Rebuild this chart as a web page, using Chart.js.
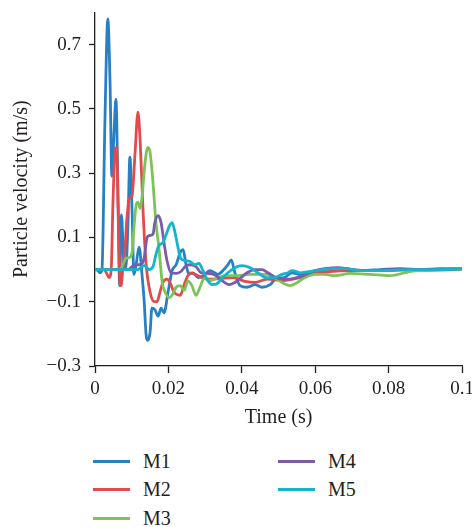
<!doctype html>
<html>
<head>
<meta charset="utf-8">
<title>Particle velocity</title>
<script src="https://cdn.jsdelivr.net/npm/chart.js@4.4.1/dist/chart.umd.min.js"></script>
<style>
  body { margin: 0; background: #fff; }
  #wrap { position: relative; width: 472px; height: 527px; overflow: hidden; }
  #c { position: absolute; left: 0; top: -7px; }
  .leg { position: absolute; font-family: "Liberation Serif", "Times New Roman", serif; font-size: 20px; color: #231f20; line-height: 22px; }
  .leg span.ln { position: absolute; width: 37px; height: 3px; top: 10px; }
  .leg span.tx { position: absolute; left: 50px; top: 0; }
</style>
</head>
<body>
<div id="wrap">
  <canvas id="c" width="479" height="437"></canvas>
  <div id="legend"></div>
</div>
<script>
// series names and colours
var names = ["M1", "M2", "M3", "M4", "M5"];
var colors = ["#2780c3", "#e24a4c", "#7cc35a", "#7d5bac", "#14b4cd"];

// tick values
var xTicks = [0, 0.02, 0.04, 0.06, 0.08, 0.1];
var yTicks = [-0.3, -0.1, 0.1, 0.3, 0.5, 0.7];

// time (s) / velocity (m/s)
var m1T = [0, 0.0008, 0.0014, 0.0019, 0.0027, 0.0035, 0.0041, 0.0046, 0.0052, 0.0057, 0.0063, 0.0067, 0.0072, 0.0079, 0.0084, 0.009, 0.0095, 0.0101, 0.0106, 0.0112, 0.012, 0.0128, 0.0134, 0.0139, 0.0144, 0.015, 0.0155, 0.0163, 0.0172, 0.018, 0.0188, 0.0199, 0.021, 0.0221, 0.0232, 0.024, 0.0248, 0.0256, 0.0267, 0.0281, 0.0294, 0.0313, 0.0335, 0.0351, 0.0362, 0.0371, 0.0381, 0.0395, 0.0414, 0.0436, 0.0455, 0.0477, 0.0493, 0.0515, 0.0537, 0.0559, 0.058, 0.0608, 0.064, 0.0681, 0.0722, 0.0777, 0.0831, 0.0886, 0.094, 0.1];
var m1V = [0, -0.003, -0.01, 0, 0.46, 0.78, 0.58, 0.29, 0.43, 0.53, 0.21, -0.05, 0.17, 0.015, 0.005, 0.15, 0.35, 0.18, -0.015, 0.015, 0.07, -0.015, -0.1, -0.2, -0.22, -0.195, -0.12, -0.125, -0.145, -0.12, -0.135, -0.07, -0.003, 0.015, 0.053, 0.062, 0.015, -0.015, -0.01, -0.025, -0.02, -0.003, -0.015, 0, 0.015, 0.03, -0.01, -0.05, -0.055, -0.047, -0.055, -0.047, -0.028, -0.025, -0.01, -0.015, -0.015, -0.006, 0.003, 0.003, -0.003, 0, 0.003, 0, 0.003, 0.002];

var m2T = [0, 0.0025, 0.0033, 0.0038, 0.0044, 0.0049, 0.0054, 0.0059, 0.0063, 0.0068, 0.0071, 0.0076, 0.0082, 0.0087, 0.0093, 0.0101, 0.0109, 0.0117, 0.0123, 0.0131, 0.0139, 0.015, 0.0161, 0.0169, 0.0177, 0.0185, 0.0196, 0.0204, 0.0215, 0.0232, 0.0245, 0.0259, 0.0272, 0.0292, 0.0313, 0.0341, 0.0376, 0.0409, 0.0436, 0.0469, 0.0512, 0.0559, 0.0599, 0.064, 0.0695, 0.0777, 0.0886, 0.1];
var m2V = [0, 0, -0.015, -0.025, -0.003, 0.21, 0.36, 0.38, 0.18, -0.04, -0.05, 0.005, 0.07, 0.16, 0.22, 0.23, 0.36, 0.49, 0.4, 0.18, 0.02, -0.07, -0.1, -0.1, -0.07, -0.04, -0.03, -0.04, -0.07, -0.08, -0.04, -0.01, -0.015, -0.025, -0.03, -0.028, -0.025, -0.037, -0.04, -0.03, -0.034, -0.025, -0.012, -0.006, -0.003, -0.003, 0, 0];

var m3T = [0, 0.0068, 0.0076, 0.0084, 0.0093, 0.0101, 0.0106, 0.0112, 0.0117, 0.0123, 0.0128, 0.0136, 0.0144, 0.015, 0.0158, 0.0166, 0.0174, 0.0183, 0.0191, 0.0202, 0.021, 0.0221, 0.0232, 0.0243, 0.0253, 0.0264, 0.0275, 0.0286, 0.0297, 0.0313, 0.0335, 0.0357, 0.0381, 0.0422, 0.0469, 0.0493, 0.0515, 0.0531, 0.0551, 0.0572, 0.0599, 0.0627, 0.0654, 0.0695, 0.0749, 0.0804, 0.0858, 0.0913, 0.1];
var m3V = [0, 0, 0.015, 0.035, 0.037, 0.053, 0.13, 0.2, 0.21, 0.19, 0.225, 0.33, 0.38, 0.365, 0.27, 0.145, 0.07, -0.04, -0.07, -0.087, -0.08, -0.055, -0.05, -0.065, -0.035, -0.05, -0.08, -0.055, -0.028, -0.034, -0.025, -0.019, -0.019, -0.015, -0.015, -0.028, -0.044, -0.05, -0.04, -0.025, -0.015, -0.015, -0.019, -0.012, -0.015, -0.019, -0.006, -0.003, 0];

var m4T = [0, 0.009, 0.0104, 0.0114, 0.0125, 0.0134, 0.0142, 0.015, 0.0158, 0.0163, 0.0172, 0.018, 0.0188, 0.0196, 0.0207, 0.0221, 0.0234, 0.0248, 0.0262, 0.0275, 0.0289, 0.0305, 0.0324, 0.0346, 0.0365, 0.0381, 0.0398, 0.0414, 0.0436, 0.0455, 0.0471, 0.0493, 0.0515, 0.054, 0.0567, 0.0599, 0.0627, 0.0662, 0.07, 0.0749, 0.0817, 0.0913, 0.1];
var m4V = [0, 0, 0.012, 0.015, 0.015, 0.037, 0.1, 0.106, 0.11, 0.146, 0.168, 0.146, 0.084, 0.028, -0.01, -0.012, -0.006, 0.012, 0.015, 0.009, -0.01, -0.012, -0.015, -0.034, -0.047, -0.04, -0.025, -0.01, 0, 0, -0.01, -0.025, -0.03, -0.028, -0.019, -0.003, 0.003, 0.006, 0, -0.003, 0, 0, 0.003];

var m5T = [0, 0.0117, 0.0128, 0.0136, 0.0147, 0.0158, 0.0166, 0.0174, 0.0185, 0.0193, 0.0202, 0.021, 0.0218, 0.0226, 0.0234, 0.0245, 0.0259, 0.0272, 0.0283, 0.0294, 0.0305, 0.0319, 0.0332, 0.0346, 0.0362, 0.0381, 0.04, 0.0422, 0.0444, 0.0466, 0.0488, 0.051, 0.0526, 0.0537, 0.0559, 0.0586, 0.0619, 0.0646, 0.0681, 0.0722, 0.0777, 0.0858, 0.094, 0.1];
var m5V = [0, 0, 0.009, 0.012, 0, 0.009, 0.047, 0.075, 0.084, 0.106, 0.134, 0.146, 0.115, 0.069, 0.034, 0.028, 0.025, 0.015, 0.019, -0.003, -0.03, -0.047, -0.044, -0.028, -0.01, 0.006, 0.012, 0.006, -0.01, -0.025, -0.025, -0.015, -0.01, -0.003, -0.01, -0.006, 0, 0.003, 0.003, -0.003, -0.003, 0, 0, 0.003];

var allT = [m1T, m2T, m3T, m4T, m5T];
var allV = [m1V, m2V, m3V, m4V, m5V];

var serif = "'Liberation Serif', 'Times New Roman', serif";
var ink = "#231f20";

function pts(t, v) {
    var out = [];
    for (var i = 0; i < t.length; i++) out.push({x: t[i], y: v[i]});
    return out;
}

var datasets = [];
for (var i = 0; i < names.length; i++) {
    datasets.push({
        label: names[i],
        data: pts(allT[i], allV[i]),
        borderColor: colors[i],
        borderWidth: 2.8,
        pointRadius: 0,
        fill: false,
        cubicInterpolationMode: 'monotone',
        order: names.length - i
    });
}

function fmtY(v) {
    var s = Math.abs(v).toFixed(1);
    return v < 0 ? '\u2212' + s : s;
}
function fmtX(v) {
    return v === 0 ? '0' : String(+v.toFixed(2));
}

new Chart(document.getElementById("c"), {
    type: 'line',
    data: { datasets: datasets },
    options: {
        responsive: false,
        animation: false,
        layout: { padding: { top: 3, right: 3, left: 0, bottom: 0 } },
        plugins: { legend: { display: false }, tooltip: { enabled: false } },
        scales: {
            x: {
                type: 'linear',
                min: 0, max: 0.1,
                afterBuildTicks: function(s) { s.ticks = xTicks.map(function(v) { return {value: v}; }); },
                afterFit: function(s) { s.height = 64; },
                grid: { drawOnChartArea: false, tickLength: 7, tickColor: ink, tickWidth: 1.3 },
                border: { color: ink, width: 1.3 },
                ticks: { color: ink, font: { family: serif, size: 19 }, padding: 5, maxRotation: 0,
                         callback: function(v) { return fmtX(v); } },
                title: { display: true, text: 'Time (s)', color: ink, font: { family: serif, size: 20 }, padding: { top: 0, bottom: 0 } }
            },
            y: {
                min: -0.3, max: 0.8,
                afterBuildTicks: function(s) { s.ticks = yTicks.map(function(v) { return {value: v}; }); },
                afterFit: function(s) { s.width = 95; },
                grid: { drawOnChartArea: false, tickLength: 6, tickColor: ink, tickWidth: 1.3 },
                border: { color: ink, width: 1.3 },
                ticks: { color: ink, font: { family: serif, size: 19 }, padding: 8,
                         callback: function(v) { return fmtY(v); } },
                title: { display: true, text: 'Particle velocity (m/s)', color: ink, font: { family: serif, size: 20 }, padding: { top: 10, bottom: 0 } }
            }
        }
    }
});

// legend in two columns: M1-M3, then M4-M5
var legPos = [[93, 450], [93, 478], [93, 507], [278, 450], [278, 478]];
var leg = document.getElementById("legend");
for (var k = 0; k < names.length; k++) {
    var d = document.createElement("div");
    d.className = "leg";
    d.style.left = legPos[k][0] + "px";
    d.style.top = legPos[k][1] + "px";
    d.innerHTML = '<span class="ln" style="background:' + colors[k] + '"></span><span class="tx">' + names[k] + '</span>';
    leg.appendChild(d);
}
</script>
</body>
</html>
